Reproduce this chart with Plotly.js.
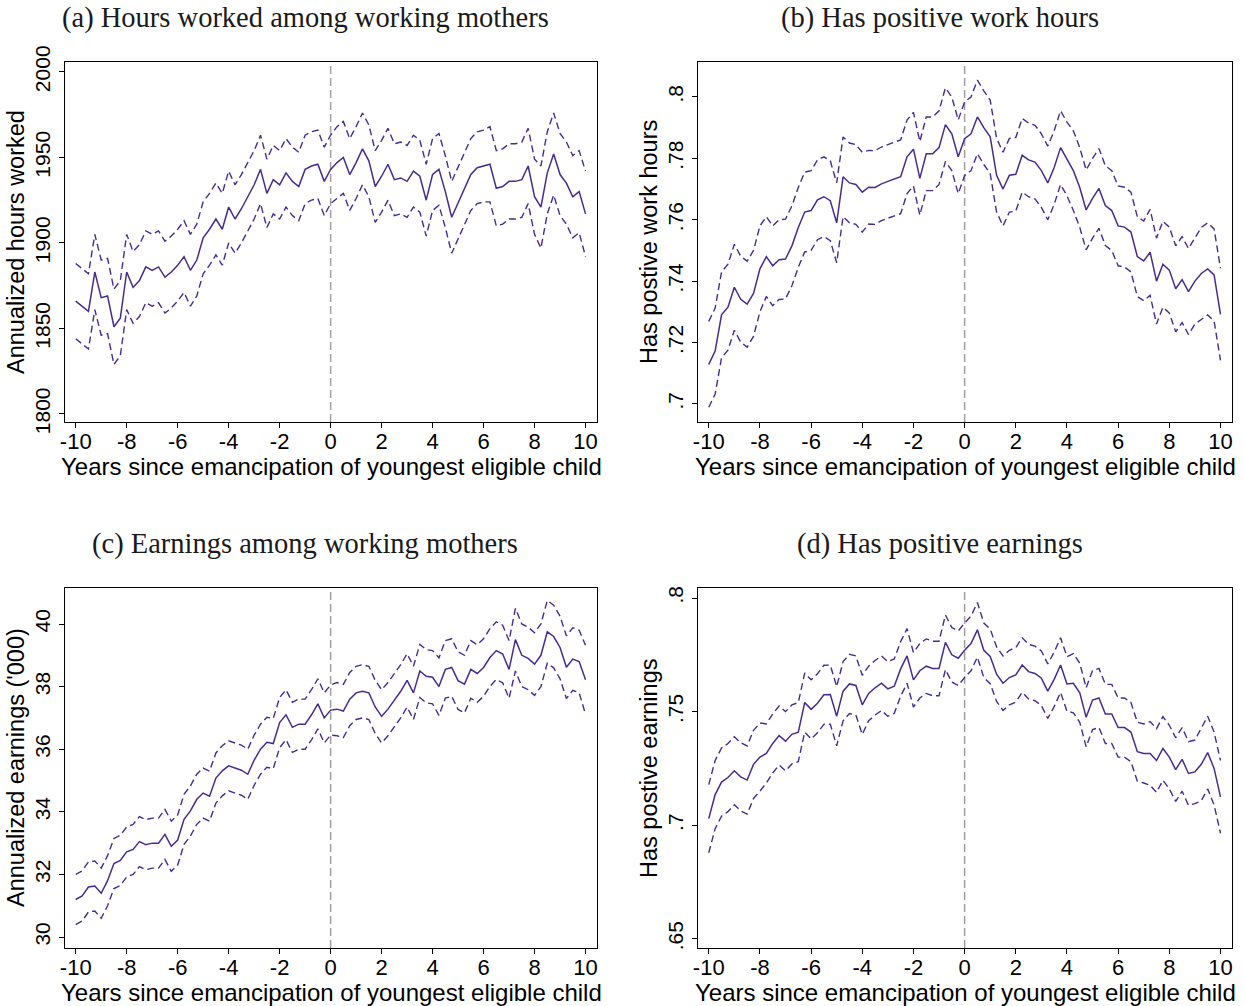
<!DOCTYPE html>
<html><head><meta charset="utf-8">
<script src="https://cdn.plot.ly/plotly-3.0.1.min.js"></script>
<style>html,body{margin:0;padding:0;background:#fff}#chart{width:1244px;height:1006px}</style>
</head><body><div id="chart"></div>
<script>
// ---- data ----
const years = [-10,-9.75,-9.5,-9.25,-9,-8.75,-8.5,-8.25,-8,-7.75,-7.5,-7.25,-7,-6.75,-6.5,-6.25,-6,-5.75,-5.5,-5.25,-5,-4.75,-4.5,-4.25,-4,-3.75,-3.5,-3.25,-3,-2.75,-2.5,-2.25,-2,-1.75,-1.5,-1.25,-1,-0.75,-0.5,-0.25,0,0.25,0.5,0.75,1,1.25,1.5,1.75,2,2.25,2.5,2.75,3,3.25,3.5,3.75,4,4.25,4.5,4.75,5,5.25,5.5,5.75,6,6.25,6.5,6.75,7,7.25,7.5,7.75,8,8.25,8.5,8.75,9,9.25,9.5,9.75,10];

const hoursEst = [1866,1863,1860,1883,1868,1869,1851,1856,1883,1874,
1878,1886,1884,1886,1880,1883,1887,1892,1884,1890,
1903,1908,1914,1908,1921,1914,1920,1927,1934,1943,
1929,1937,1934,1941,1936,1933,1943,1945,1946,1936,
1943,1947,1950,1940,1947,1955,1948,1933,1939,1946,
1937,1938,1936,1942,1939,1925,1940,1943,1930,1915,
1923,1932,1940,1944,1945,1946,1932,1933,1936,1936,
1937,1945,1927,1921,1941,1952,1940,1935,1927,1930,
1917];
const hoursHi = [1888,1885,1882,1905,1890,1891,1873,1878,1905,1895,
1899,1907,1905,1907,1901,1904,1908,1913,1905,1911,
1924,1929,1935,1929,1942,1934,1940,1947,1954,1963,
1949,1957,1954,1961,1956,1953,1963,1965,1966,1956,
1963,1968,1971,1961,1968,1976,1969,1954,1960,1967,
1958,1959,1957,1963,1960,1946,1961,1964,1951,1936,
1944,1953,1961,1965,1966,1968,1954,1955,1958,1958,
1959,1967,1949,1945,1965,1976,1964,1959,1951,1954,
1942];
const hoursLo = [1844,1841,1838,1861,1846,1847,1829,1834,1861,1853,
1857,1865,1863,1865,1859,1862,1866,1871,1863,1869,
1882,1887,1893,1887,1900,1894,1900,1907,1914,1923,
1909,1917,1914,1921,1916,1913,1923,1925,1926,1916,
1923,1926,1929,1919,1926,1934,1927,1912,1918,1925,
1916,1917,1915,1921,1918,1904,1919,1922,1909,1894,
1902,1911,1919,1923,1924,1924,1910,1911,1914,1914,
1915,1923,1905,1897,1917,1928,1916,1911,1903,1906,
1892];

const workEst = [.7129,.7172,.7290,.7315,.7380,.7341,.7325,.7360,.7440,.7480,
.7450,.7470,.7472,.7515,.7575,.7625,.7630,.7665,.7675,.7662,
.7590,.7740,.7720,.7715,.7690,.7706,.7705,.7717,.7725,.7733,
.7740,.7805,.7830,.7735,.7815,.7815,.7835,.7910,.7880,.7805,
.7864,.7880,.7935,.7900,.7870,.7745,.7700,.7745,.7748,.7810,
.7795,.7788,.7760,.7720,.7770,.7835,.7798,.7760,.7705,.7632,
.7670,.7702,.7646,.7630,.7580,.7576,.7560,.7480,.7466,.7494,
.7400,.7455,.7436,.7375,.7405,.7366,.7400,.7425,.7440,.7420,
.7292];
const workHi = [.7269,.7312,.7430,.7455,.7520,.7481,.7465,.7500,.7580,.7610,
.7580,.7600,.7602,.7645,.7705,.7755,.7760,.7795,.7805,.7792,
.7720,.7870,.7850,.7845,.7820,.7826,.7825,.7837,.7845,.7853,
.7860,.7925,.7950,.7855,.7935,.7935,.7955,.8030,.8000,.7925,
.7984,.8000,.8055,.8020,.7990,.7865,.7820,.7865,.7868,.7930,
.7915,.7908,.7880,.7840,.7890,.7955,.7918,.7890,.7835,.7762,
.7800,.7832,.7776,.7760,.7710,.7706,.7690,.7610,.7596,.7634,
.7540,.7595,.7576,.7515,.7545,.7506,.7540,.7575,.7590,.7570,
.7442];
const workLo = [.6989,.7032,.7150,.7175,.7240,.7201,.7185,.7220,.7300,.7350,
.7320,.7340,.7342,.7385,.7445,.7495,.7500,.7535,.7545,.7532,
.7460,.7610,.7590,.7585,.7560,.7586,.7585,.7597,.7605,.7613,
.7620,.7685,.7710,.7615,.7695,.7695,.7715,.7790,.7760,.7685,
.7744,.7760,.7815,.7780,.7750,.7625,.7580,.7625,.7628,.7690,
.7675,.7668,.7640,.7600,.7650,.7715,.7678,.7630,.7575,.7502,
.7540,.7572,.7516,.7500,.7450,.7446,.7430,.7350,.7336,.7354,
.7260,.7315,.7296,.7235,.7265,.7226,.7260,.7275,.7290,.7270,
.7142];

const earnEst = [31.20,31.31,31.60,31.63,31.40,31.80,32.35,32.45,32.72,32.80,
33.05,32.95,33.00,33.00,33.28,32.90,33.10,33.76,34.03,34.40,
34.60,34.50,35.08,35.31,35.47,35.40,35.33,35.20,35.65,36.00,
36.22,36.18,36.85,37.10,36.70,36.80,36.80,37.10,37.45,37.00,
37.25,37.28,37.22,37.60,37.80,37.85,37.80,37.35,37.05,37.28,
37.55,37.85,38.20,37.80,38.50,38.33,38.30,38.00,38.55,38.61,
38.19,38.08,38.55,38.42,38.61,38.93,39.15,39.04,38.55,39.50,
39.00,38.90,38.72,39.00,39.75,39.60,39.25,38.62,38.88,38.80,
38.22];
const earnHi = [32.00,32.11,32.40,32.43,32.20,32.60,33.15,33.25,33.52,33.60,
33.85,33.75,33.80,33.80,34.08,33.70,33.90,34.56,34.83,35.20,
35.40,35.30,35.88,36.11,36.27,36.20,36.13,36.00,36.45,36.80,
37.02,36.98,37.65,37.90,37.50,37.60,37.60,37.90,38.25,37.80,
38.05,38.13,38.07,38.45,38.65,38.70,38.65,38.20,37.90,38.13,
38.40,38.70,39.05,38.65,39.35,39.18,39.15,38.92,39.47,39.53,
39.11,39.00,39.47,39.34,39.53,39.85,40.07,39.96,39.47,40.50,
40.00,39.90,39.72,40.00,40.75,40.60,40.25,39.62,39.88,39.80,
39.32];
const earnLo = [30.40,30.51,30.80,30.83,30.60,31.00,31.55,31.65,31.92,32.00,
32.25,32.15,32.20,32.20,32.48,32.10,32.30,32.96,33.23,33.60,
33.80,33.70,34.28,34.51,34.67,34.60,34.53,34.40,34.85,35.20,
35.42,35.38,36.05,36.30,35.90,36.00,36.00,36.30,36.65,36.20,
36.45,36.43,36.37,36.75,36.95,37.00,36.95,36.50,36.20,36.43,
36.70,37.00,37.35,36.95,37.65,37.48,37.45,37.08,37.63,37.69,
37.27,37.16,37.63,37.50,37.69,38.01,38.23,38.12,37.63,38.50,
38.00,37.90,37.72,38.00,38.75,38.60,38.25,37.62,37.88,37.80,
37.12];

const posEst = [.7029,.7135,.7190,.7210,.7240,.7213,.7199,.7268,.7300,.7316,
.7360,.7395,.7370,.7400,.7410,.7540,.7510,.7537,.7574,.7575,
.7480,.7590,.7622,.7615,.7530,.7580,.7605,.7625,.7600,.7612,
.7688,.7745,.7640,.7680,.7700,.7690,.7690,.7805,.7750,.7735,
.7770,.7800,.7860,.7770,.7743,.7665,.7625,.7650,.7662,.7705,
.7676,.7668,.7647,.7590,.7642,.7705,.7622,.7625,.7583,.7475,
.7551,.7560,.7490,.7490,.7430,.7430,.7410,.7324,.7316,.7316,
.7285,.7338,.7300,.7245,.7290,.7228,.7235,.7268,.7320,.7250,
.7125];
const posHi = [.7179,.7285,.7340,.7360,.7390,.7363,.7349,.7418,.7450,.7446,
.7490,.7525,.7500,.7530,.7540,.7670,.7640,.7667,.7704,.7705,
.7610,.7720,.7752,.7745,.7660,.7700,.7725,.7745,.7720,.7732,
.7808,.7865,.7760,.7800,.7820,.7810,.7810,.7925,.7870,.7855,
.7890,.7920,.7980,.7890,.7863,.7785,.7745,.7770,.7782,.7825,
.7796,.7788,.7767,.7710,.7762,.7825,.7742,.7755,.7713,.7605,
.7681,.7690,.7620,.7620,.7560,.7560,.7540,.7454,.7446,.7456,
.7425,.7478,.7440,.7385,.7430,.7368,.7375,.7428,.7480,.7410,
.7285];
const posLo = [.6879,.6985,.7040,.7060,.7090,.7063,.7049,.7118,.7150,.7186,
.7230,.7265,.7240,.7270,.7280,.7410,.7380,.7407,.7444,.7445,
.7350,.7460,.7492,.7485,.7400,.7460,.7485,.7505,.7480,.7492,
.7568,.7625,.7520,.7560,.7580,.7570,.7570,.7685,.7630,.7615,
.7650,.7680,.7740,.7650,.7623,.7545,.7505,.7530,.7542,.7585,
.7556,.7548,.7527,.7470,.7522,.7585,.7502,.7495,.7453,.7345,
.7421,.7430,.7360,.7360,.7300,.7300,.7280,.7194,.7186,.7176,
.7145,.7198,.7160,.7105,.7150,.7088,.7095,.7108,.7160,.7090,
.6965];

const xTickVals = [-10,-8,-6,-4,-2,0,2,4,6,8,10];
const xTickText = ["-10","-8","-6","-4","-2","0","2","4","6","8","10"];
const hoursTickVals = [1800,1850,1900,1950,2000];
const hoursTickText = ["1800","1850","1900","1950","2000"];
const workTickVals = [0.70,0.72,0.74,0.76,0.78,0.80];
const workTickText = [".7",".72",".74",".76",".78",".8"];
const earnTickVals = [30,32,34,36,38,40];
const earnTickText = ["30","32","34","36","38","40"];
const posTickVals = [0.65,0.70,0.75,0.80];
const posTickText = [".65",".7",".75",".8"];

const panelTitles = ["(a) Hours worked among working mothers","(b) Has positive work hours","(c) Earnings among working mothers","(d) Has positive earnings"];
const yTitles = ["Annualized hours worked","Has postive work hours","Annualized earnings ('000)","Has postive earnings"];
const xTitle = "Years since emancipation of youngest eligible child";

// ---- drawing ----
const W = 1244, H = 1006;
const COL = '#482c8c';
const sans = 'Liberation Sans, Arial, Helvetica, sans-serif';
const serif = 'Liberation Serif, Times New Roman, serif';

function series(xa, ya, est, lo, hi){
  return [
    {x: years, y: hi, xaxis: xa, yaxis: ya, mode: 'lines', line: {color: COL, width: 1.4, dash: '7px,4px'}, showlegend: false, hoverinfo: 'x+y'},
    {x: years, y: lo, xaxis: xa, yaxis: ya, mode: 'lines', line: {color: COL, width: 1.4, dash: '7px,4px'}, showlegend: false, hoverinfo: 'x+y'},
    {x: years, y: est, xaxis: xa, yaxis: ya, mode: 'lines', line: {color: COL, width: 1.5}, showlegend: false, hoverinfo: 'x+y'}
  ];
}
const data = [].concat(
  series('x','y',hoursEst,hoursLo,hoursHi),
  series('x2','y2',workEst,workLo,workHi),
  series('x3','y3',earnEst,earnLo,earnHi),
  series('x4','y4',posEst,posLo,posHi)
);

const colL = [65/W, 597/W], colR = [698/W, 1232/W];
const rowT = [1-422/H, 1-62/H], rowB = [1-948/H, 1-588/H];

function xax(dom, anchor){
  return {domain: dom, anchor: anchor, range: [-10.42, 10.45], tickvals: xTickVals, ticktext: xTickText,
    ticks: 'outside', ticklen: 5, tickwidth: 1, tickcolor: '#000', ticklabelstandoff: -6,
    showline: true, linecolor: '#000', linewidth: 1.2, mirror: true,
    showgrid: false, zeroline: false, tickfont: {family: sans, size: 22, color: '#000'}};
}
function yax(dom, anchor, range, tv, tt){
  return {domain: dom, anchor: anchor, range: range, tickvals: tv, ticktext: tt, tickangle: -90,
    ticks: 'outside', ticklen: 5, tickwidth: 1, tickcolor: '#000', showline: true, linecolor: '#000', linewidth: 1.2, mirror: true,
    showgrid: false, zeroline: false, tickfont: {family: sans, size: 21, color: '#000'}};
}

function vline(xref, yref){
  return {type: 'line', xref: xref, yref: yref + ' domain', x0: 0, x1: 0, y0: 0, y1: 1, layer: 'below',
    line: {color: '#a0a0a0', width: 1.5, dash: '8px,4px'}};
}
function ptitle(text, cx, cy){
  return {text: text, xref: 'paper', yref: 'paper', x: cx/W, y: 1-cy/H, xanchor: 'center', yanchor: 'middle',
    showarrow: false, font: {family: serif, size: 28.5, color: '#1a1a1a'}};
}
function xtitle(cx, cy){
  return {text: xTitle, xref: 'paper', yref: 'paper', x: cx/W, y: 1-cy/H, xanchor: 'center', yanchor: 'middle',
    showarrow: false, font: {family: sans, size: 24, color: '#000'}};
}
function ytitle(text, cx, cy){
  return {text: text, xref: 'paper', yref: 'paper', x: cx/W, y: 1-cy/H, xanchor: 'center', yanchor: 'middle', textangle: -90,
    showarrow: false, font: {family: sans, size: 23.5, color: '#000'}};
}

const layout = {
  width: W, height: H, margin: {l: 0, r: 0, t: 0, b: 0}, paper_bgcolor: '#fff', plot_bgcolor: '#fff', showlegend: false,
  xaxis: xax(colL, 'y'), yaxis: yax(rowT, 'x', [1795.3, 2005.8], hoursTickVals, hoursTickText),
  xaxis2: xax(colR, 'y2'), yaxis2: yax(rowT, 'x2', [0.6941, 0.8114], workTickVals, workTickText),
  xaxis3: xax(colL, 'y3'), yaxis3: yax(rowB, 'x3', [29.65, 41.15], earnTickVals, earnTickText),
  xaxis4: xax(colR, 'y4'), yaxis4: yax(rowB, 'x4', [0.646, 0.8044], posTickVals, posTickText),
  shapes: [vline('x','y'), vline('x2','y2'), vline('x3','y3'), vline('x4','y4')],
  annotations: [
    ptitle(panelTitles[0], 305, 18), ptitle(panelTitles[1], 940, 18), ptitle(panelTitles[2], 305, 544), ptitle(panelTitles[3], 940, 544),
    xtitle(331, 466), xtitle(965, 466), xtitle(331, 992), xtitle(965, 992),
    ytitle(yTitles[0], 16, 242), ytitle(yTitles[1], 649, 242), ytitle(yTitles[2], 16, 768), ytitle(yTitles[3], 649, 768)
  ]
};

Plotly.newPlot('chart', data, layout, {staticPlot: true, displayModeBar: false});
</script>
</body></html>
